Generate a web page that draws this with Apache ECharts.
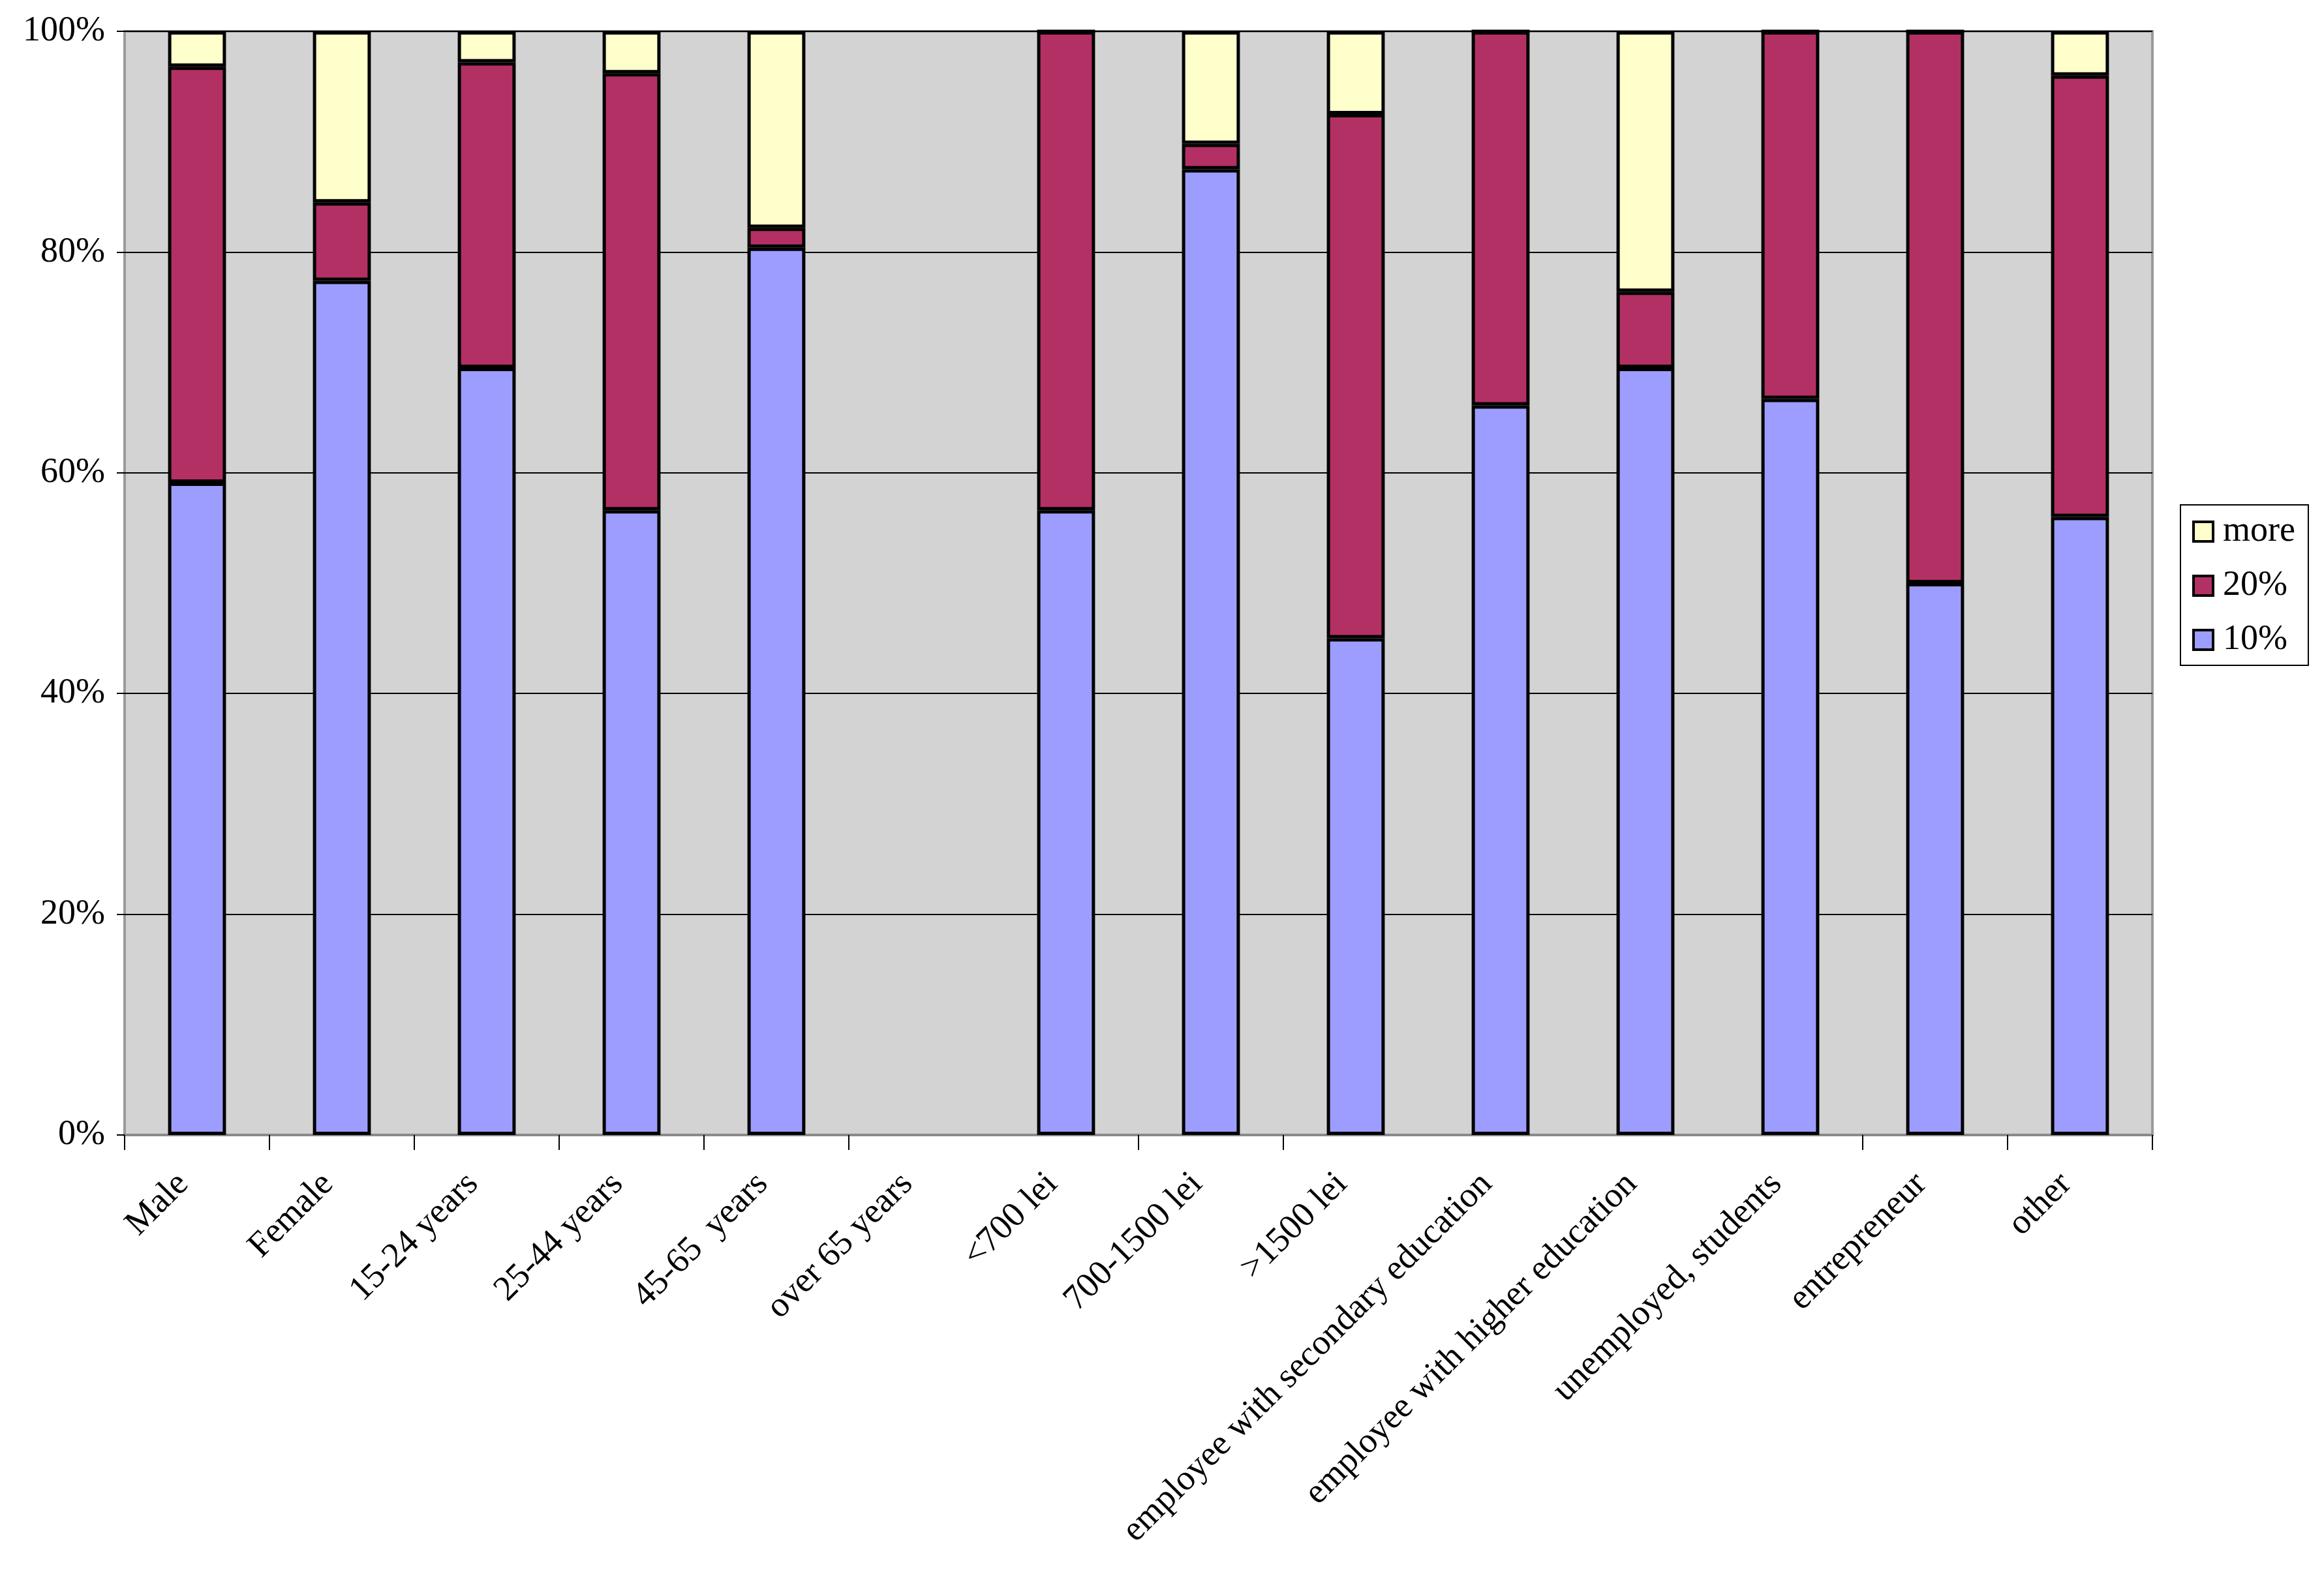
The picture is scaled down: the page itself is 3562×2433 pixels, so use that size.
<!DOCTYPE html>
<html>
<head>
<meta charset="utf-8">
<script src="https://cdn.jsdelivr.net/npm/echarts@6/dist/echarts.min.js"></script>
<style>
html,body{margin:0;padding:0;background:#fff;}
#chart{width:3562px;height:2433px;}
</style>
</head>
<body>
<div id="chart"></div>
<script>
var categories = ['Male', 'Female', '15-24 years', '25-44 years', '45-65  years', 'over 65 years',
  '<700 lei', '700-1500 lei', '>1500 lei', 'employee with secondary education',
  'employee with higher education', 'unemployed, students', 'entrepreneur', 'other'];
var s10 = [59.1, 77.4, 69.5, 56.6, 80.4, null, 56.6, 87.5, 45.0, 66.1, 69.5, 66.7, 50.0, 56.0];
var s20 = [37.7, 7.1, 27.7, 39.6, 1.8, null, 43.4, 2.3, 47.5, 33.9, 6.9, 33.3, 50.0, 40.0];
var sMore = [3.2, 15.5, 2.8, 3.8, 17.8, null, 0, 10.2, 7.5, 0, 23.6, 0, 0, 4.0];
var yTicks = [0, 20, 40, 60, 80, 100];
var hiddenTicks = [6, 9, 10, 11];

var FONT = 'Liberation Serif';
var chart = echarts.init(document.getElementById('chart'));
function barSeries(name, data, color) {
  return {
    name: name, type: 'bar', stack: 'total', data: data,
    barWidth: '40%',
    itemStyle: {color: color, borderColor: '#000', borderWidth: 5},
    emphasis: {disabled: true}
  };
}
chart.setOption({
  animation: false,
  backgroundColor: '#ffffff',
  grid: {
    left: 191, right: 263, top: 48, bottom: 693,
    show: true, backgroundColor: '#D3D3D3', borderColor: '#9a9a9a', borderWidth: 4
  },
  legend: {
    orient: 'vertical',
    left: 3342, top: 774,
    data: ['more', '20%', '10%'],
    backgroundColor: '#ffffff',
    borderColor: '#000', borderWidth: 2,
    padding: [14, 20, 12, 18],
    itemWidth: 30, itemHeight: 30, itemGap: 29,
    icon: 'rect',
    itemStyle: {borderColor: '#000', borderWidth: 4},
    textStyle: {fontFamily: FONT, fontSize: 54, color: '#000', padding: [0, 0, 0, 10]}
  },
  xAxis: {
    type: 'category',
    data: categories,
    axisLine: {show: true, lineStyle: {color: '#8a8a8a', width: 4}},
    axisTick: {
      show: true, length: 23, lineStyle: {color: '#000', width: 2},
      interval: function (i) { return hiddenTicks.indexOf(i) < 0; }
    },
    axisLabel: {
      interval: 0, rotate: 45, margin: 46, padding: [0, 30, 0, 0],
      fontFamily: FONT, fontSize: 54, color: '#000'
    },
    splitLine: {show: false}
  },
  yAxis: {
    type: 'value',
    min: yTicks[0], max: yTicks[yTicks.length - 1], interval: 20,
    axisLine: {show: false},
    axisTick: {show: true, length: 12, lineStyle: {color: '#000', width: 2}},
    axisLabel: {
      margin: 30, fontFamily: FONT, fontSize: 54, color: '#000',
      formatter: function (v) { return v + '%'; }
    },
    splitLine: {show: true, lineStyle: {color: '#000', width: 2}}
  },
  series: [
    barSeries('10%', s10, '#9D9DFF'),
    barSeries('20%', s20, '#B33064'),
    barSeries('more', sMore, '#FFFFCC')
  ]
});
</script>
</body>
</html>
